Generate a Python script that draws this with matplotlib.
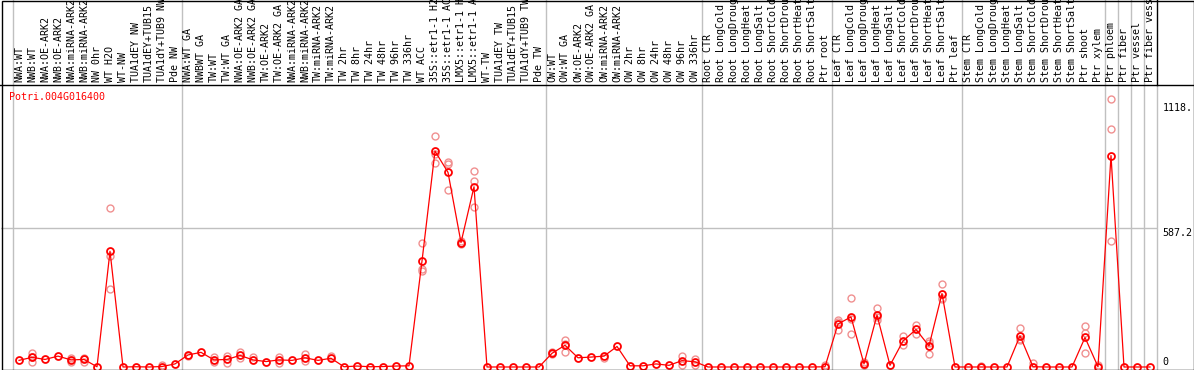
import matplotlib
matplotlib.use("Agg")
import matplotlib.pyplot as plt
from matplotlib.lines import Line2D
from matplotlib.transforms import blended_transform_factory

labels = [
    "NWA:WT", "NWB:WT", "NWA:OE-ARK2", "NWB:OE-ARK2", "NWA:miRNA-ARK2", "NWB:miRNA-ARK2",
    "NW 0hr", "WT H2O", "WT-NW", "TUA1dEY NW", "TUA1dEY+TUB15", "TUA1dY+TUB9 NW", "Pde NW",
    "NWA:WT GA", "NWBWT GA", "TW:WT", "TW:WT GA", "NWA:OE-ARK2 GA", "NWB:OE-ARK2 GA",
    "TW:OE-ARK2", "TW:OE-ARK2 GA", "NWA:miRNA-ARK2", "NWB:miRNA-ARK2", "TW:miRNA-ARK2",
    "TW:miRNA-ARK2", "TW 2hr", "TW 8hr", "TW 24hr", "TW 48hr", "TW 96hr", "TW 336hr",
    "WT ACC", "35S::etr1-1 H2", "35S::etr1-1 AC", "LMX5::etr1-1 H", "LMX5::etr1-1 A",
    "WT-TW", "TUA1dEY TW", "TUA1dEY+TUB15", "TUA1dY+TUB9 TW", "Pde TW",
    "OW:WT", "OW:WT GA", "OW:OE-ARK2", "OW:OE-ARK2 GA", "OW:miRNA-ARK2", "OW:miRNA-ARK2",
    "OW 2hr", "OW 8hr", "OW 24hr", "OW 48hr", "OW 96hr", "OW 336hr",
    "Root CTR", "Root LongCold", "Root LongDroug", "Root LongHeat", "Root LongSalt",
    "Root ShortCold", "Root ShortDrou", "Root ShortHeat", "Root ShortSalt", "Ptr root",
    "Leaf CTR", "Leaf LongCold", "Leaf LongDroug", "Leaf LongHeat", "Leaf LongSalt",
    "Leaf ShortCold", "Leaf ShortDrou", "Leaf ShortHeat", "Leaf ShortSalt", "Ptr leaf",
    "Stem CTR", "Stem LongCold", "Stem LongDroug", "Stem LongHeat", "Stem LongSalt",
    "Stem ShortCold", "Stem ShortDrou", "Stem ShortHeat", "Stem ShortSalt", "Ptr shoot",
    "Ptr xylem", "Ptr phloem", "Ptr fiber", "Ptr vessel", "Ptr fiber vess",
]

means = [
    28, 41, 32, 46, 30, 32, 1, 490, 0, 1, 0, 2, 13,
    51, 62, 30, 32, 49, 30, 23, 30, 28, 39, 28, 37, 1, 4, 1, 2, 4, 5,
    449, 914, 824, 527, 763, 0, 0, 0, 0, 0,
    58, 92, 39, 42, 46, 87, 5, 5, 13, 7, 27, 22,
    0, 0, 0, 0, 0, 0, 0, 0, 0, 1,
    182, 212, 13, 220, 7, 110, 159, 89, 311, 0,
    0, 0, 0, 0, 132, 1, 0, 0, 0, 125,
    1, 895, 0, 0, 0,
]

# individual replicates where they stand apart from the mean
reps = {
    1: [60, 21, 41], 4: [38, 22], 5: [40, 22], 11: [8],
    13: [45], 15: [44, 20], 16: [47, 17], 17: [62, 38], 18: [41],
    20: [44, 18], 22: [56, 25], 24: [45],
    7: [675, 469, 329],
    31: [527, 414, 407], 32: [976, 865, 900], 33: [870, 860, 748],
    34: [522, 532, 527], 35: [831, 786, 679],
    41: [64, 54], 42: [114, 65, 97], 45: [36], 51: [46, 8], 52: [33, 8],
    62: [10], 63: [201, 156, 191], 64: [294, 139, 205], 65: [20, 8],
    66: [248, 201, 212], 68: [131, 93], 69: [177, 139], 70: [110, 55, 100],
    71: [351, 294, 290], 74: [5],
    77: [163, 114, 120], 78: [15], 82: [175, 146, 58], 83: [7],
    84: [1136, 1008, 535],
}

group_edges = [-0.5, 12.5, 40.5, 52.5, 62.5, 72.5, 83.5, 84.5, 85.5, 86.5]
right_ticks = [0, 587.2, 1118]
right_labels = ["0", "587.2", "1118."]

W, H = 1194, 370
fig = plt.figure(figsize=(W / 100, H / 100), dpi=100)
ax = fig.add_axes([1 / W, 1 / H, 1155.5 / W, 284 / H])
ax.set_xlim(-1.385, 87.5)
ax.set_ylim(-8.5, 1194)
for s in ax.spines.values():
    s.set_visible(False)
ax.set_xticks([])
ax.set_yticks([])

mono = "DejaVu Sans Mono"
ext = (H - 1) / 284.0

# grey separators run the full height
for e in group_edges:
    ax.axvline(e, 0, ext, color="#c0c0c0", lw=1.0, clip_on=False, zorder=1)
ax.axvline(87.5, 0, 1, color="#c0c0c0", lw=1.0, clip_on=False, zorder=1)
ax.axvline(87.5, 1, ext, color="black", lw=1.0, clip_on=False, zorder=1)
ax.axhline(587.2, color="#c0c0c0", lw=1.0, zorder=1)

xs = list(range(len(means)))
ax.plot(xs, means, color="red", lw=0.9, zorder=3)
rx, ry = [], []
for i, vals in reps.items():
    for v in vals:
        rx.append(i)
        ry.append(v)
ax.plot(rx, ry, "o", ms=5, mfc="none", mec="#f09090", mew=1.0, zorder=2)
ax.plot(xs, means, "o", ms=5, mfc="none", mec="red", mew=1.3, zorder=4)

# column labels above the plot
tr = blended_transform_factory(ax.transData, ax.transAxes)
for i, lab in enumerate(labels):
    ax.text(i, 1 + 2.5 / 284, lab, transform=tr, rotation=90, ha="center", va="bottom",
            family=mono, fontsize=7.2, clip_on=False)

# value labels on the right
tr2 = blended_transform_factory(ax.transAxes, ax.transData)
for v, lab in zip(right_ticks, right_labels):
    ax.text(1 + 6 / 1155.5, v, lab, transform=tr2, ha="left",
            va="bottom" if v == 0 else "top", family=mono, fontsize=7.2)

ax.text(8 / 1155.5, 1 - 12 / 284, "Potri.004G016400", transform=ax.transAxes,
        color="red", family=mono, fontsize=7.2, va="center", ha="left")

# frame
fig.add_artist(Line2D([0, 1], [1 - 85 / H, 1 - 85 / H], transform=fig.transFigure, color="black", lw=1.0))
fig.add_artist(plt.Rectangle((1.5 / W, 0.5 / H), 1 - 2 / W, 1 - 1 / H, transform=fig.transFigure,
                             fill=False, ec="black", lw=1.0))

fig.savefig("out.png", dpi=100)
